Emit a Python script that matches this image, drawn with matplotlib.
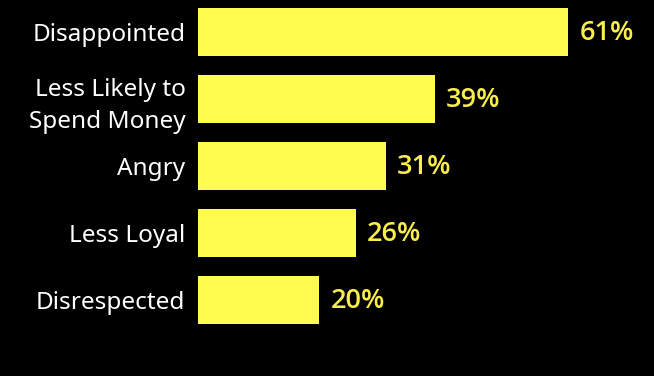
import matplotlib
matplotlib.use('Agg')
import matplotlib.pyplot as plt

# data
categories = ['Disappointed', 'Less Likely to\nSpend Money', 'Angry', 'Less Loyal', 'Disrespected']
values = [61, 39, 31, 26, 20]

bar_color = '#fffb4f'
label_color = '#f9ee4a'

plt.rcParams['font.family'] = ['Noto Sans', 'DejaVu Sans']

fig = plt.figure(figsize=(6.54, 3.76), dpi=100, facecolor='black')
ax = fig.add_axes([198 / 654, 0, 456 / 654, 1])
ax.set_facecolor('black')

pos = list(range(len(categories)))
ax.barh(pos, values, height=0.72, color=bar_color)

ax.set_xlim(0, 456 / 6.07)
ax.set_ylim(5.134, -0.478)

for p, v in zip(pos, values):
    ax.annotate('{}%'.format(v), (v, p), xytext=(8, -1), textcoords='offset points',
                va='center', ha='left', color=label_color, fontsize=19.5, fontweight='semibold',
                family=['Open Sans', 'DejaVu Sans'])

ax.set_yticks(pos)
ax.set_yticklabels(categories, color='white', fontsize=17.5, linespacing=1.45)
ax.tick_params(axis='y', length=0, pad=9)
ax.set_xticks([])
for s in ax.spines.values():
    s.set_visible(False)

fig.savefig('out.png', facecolor='black')
